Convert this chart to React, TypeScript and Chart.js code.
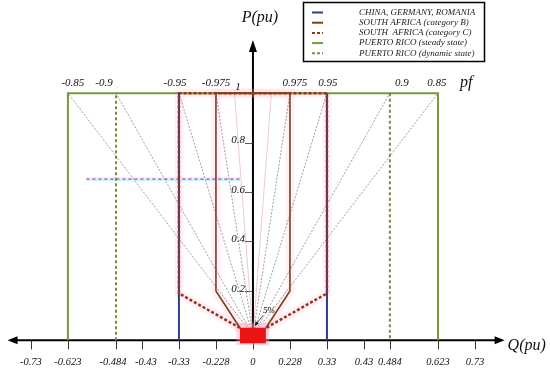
import React, { useEffect, useRef } from "react";
import { Chart, registerables } from "chart.js";
Chart.register(...registerables);

// Schematic Q axis: tick positions (axis units) and their printed labels
const qTickPositions = [-6, -5, -3.7, -3, -2, -1, 0, 1, 2, 3, 3.7, 5, 6];
const qTickLabels = ["-0.73", "-0.623", "-0.484", "-0.43", "-0.33", "-0.228", "0", "0.228", "0.33", "0.43", "0.484", "0.623", "0.73"];
const pTicks = [0.2, 0.4, 0.6, 0.8, 1];
const pTickLabels = ["0.2", "0.4", "0.6", "0.8", "1"];
// power-factor corners on the P = 1 line
const pfPositions = [-5, -3.7, -2, -1, 1, 2, 3.7, 5];
const pfLabels = ["-0.85", "-0.9", "-0.95", "-0.975", "0.975", "0.95", "0.9", "0.85"];
const extraRayQ = [-0.5, 0.5];

// series
const chinaQ = [-2, -2, null, 2, 2];
const chinaP = [0, 1, null, 1, 0];
const saBQ = [-0.35, -1, -1, 1, 1, 0.35];
const saBP = [0.05, 0.2, 1, 1, 0.2, 0.05];
const saCQ = [-0.35, -2, -2, 2, 2, 0.35];
const saCP = [0.05, 0.19, 1, 1, 0.19, 0.05];
const prSteadyQ = [-5, -5, 5, 5];
const prSteadyP = [0, 1, 1, 0];
const prDynQ = [-3.7, -3.7, null, 3.7, 3.7];
const prDynP = [0, 1, null, 1, 0];
const deadbandQ = [-0.35, 0.35];
const deadbandP = [0.05, 0.05];
const strayQ = [-4.5, -0.35];
const strayP = [0.652, 0.652];

const legendNames = [
  "CHINA, GERMANY, ROMANIA",
  "SOUTH AFRICA (category B)",
  "SOUTH  AFRICA (category C)",
  "PUERTO RICO (steady state)",
  "PUERTO RICO (dynamic state)",
];

const BLUE = "#2b3f8c";
const BROWN = "#843d14";
const RED = "#9a3318";
const GREEN = "#7a983c";
const GREEN2 = "#73913a";
const legendColors = [BLUE, BROWN, RED, GREEN, GREEN2];
const legendDashed = [false, false, true, false, true];

const zip = (qs: (number | null)[], ps: (number | null)[]) =>
  qs.map((q, i) => ({ x: q as any, y: ps[i] as any }));

const FONT = "'Liberation Serif', 'DejaVu Serif', serif";

const overlay = {
  id: "overlay",
  beforeDatasetsDraw(chart: any) {
    const { ctx, scales } = chart;
    const xs = scales.x, ys = scales.y;
    const x0 = xs.getPixelForValue(0);
    const y0 = ys.getPixelForValue(0);
    ctx.save();
    ctx.strokeStyle = "#000";
    ctx.fillStyle = "#000";
    ctx.lineWidth = 2;
    const xl = xs.getPixelForValue(-6.63);
    const xr = xs.getPixelForValue(6.8);
    ctx.beginPath();
    ctx.moveTo(xl + 6, y0);
    ctx.lineTo(xr - 6, y0);
    ctx.stroke();
    ctx.beginPath();
    ctx.moveTo(xl, y0); ctx.lineTo(xl + 10, y0 - 4); ctx.lineTo(xl + 10, y0 + 4); ctx.closePath(); ctx.fill();
    ctx.beginPath();
    ctx.moveTo(xr, y0); ctx.lineTo(xr - 10, y0 - 4); ctx.lineTo(xr - 10, y0 + 4); ctx.closePath(); ctx.fill();
    const yt = ys.getPixelForValue(1.215);
    ctx.beginPath();
    ctx.moveTo(x0, y0);
    ctx.lineTo(x0, yt + 6);
    ctx.stroke();
    ctx.beginPath();
    ctx.moveTo(x0, yt); ctx.lineTo(x0 - 4, yt + 12); ctx.lineTo(x0 + 4, yt + 12); ctx.closePath(); ctx.fill();
    ctx.lineWidth = 1;
    ctx.strokeStyle = "#333";
    qTickPositions.forEach((q) => {
      const px = Math.round(xs.getPixelForValue(q)) + 0.5;
      ctx.beginPath();
      ctx.moveTo(px, y0);
      ctx.lineTo(px, y0 + 9);
      ctx.stroke();
    });
    ctx.lineWidth = 0.8;
    pTicks.forEach((p) => {
      if (p === 1) return;
      const py = Math.round(ys.getPixelForValue(p)) + 0.5;
      ctx.beginPath();
      ctx.moveTo(x0 - 8, py);
      ctx.lineTo(x0, py);
      ctx.stroke();
    });
    ctx.restore();
  },
  afterDatasetsDraw(chart: any) {
    const { ctx, scales } = chart;
    const xs = scales.x, ys = scales.y;
    const x0 = xs.getPixelForValue(0);
    const y0 = ys.getPixelForValue(0);
    const y1 = ys.getPixelForValue(1);
    ctx.save();
    ctx.fillStyle = "#111";
    ctx.textAlign = "center";
    ctx.textBaseline = "middle";
    ctx.font = `italic 10.5px ${FONT}`;
    const qShift = [0, 0, -3, 4, 0, 0, 0, 0, 0, 0, 0, 0, 0];
    qTickPositions.forEach((q, i) => {
      ctx.fillText(qTickLabels[i], xs.getPixelForValue(q) + qShift[i], y0 + 22);
    });
    ctx.font = `italic 11px ${FONT}`;
    pTicks.forEach((p, i) => {
      const py = ys.getPixelForValue(p);
      if (p === 1) {
        ctx.textAlign = "center";
        ctx.fillText(pTickLabels[i], x0 - 15, py - 6);
      } else {
        ctx.textAlign = "right";
        ctx.fillText(pTickLabels[i], x0 - 8, py - 2);
      }
    });
    ctx.textAlign = "center";
    const pfShift = [5, -12, -4, 0, 5, 1, 12, -1];
    pfPositions.forEach((q, i) => {
      ctx.fillText(pfLabels[i], xs.getPixelForValue(q) + pfShift[i], y1 - 10);
    });
    ctx.font = `italic 16px ${FONT}`;
    ctx.textAlign = "left";
    ctx.fillText("pf", xs.getPixelForValue(5) + 22, y1 - 10);
    ctx.fillText("Q(pu)", xs.getPixelForValue(6.8) + 3, y0 + 5);
    ctx.textAlign = "center";
    ctx.fillText("P(pu)", x0 + 7, ys.getPixelForValue(1.3) - 1);
    // 5% annotation
    ctx.font = `italic 9px ${FONT}`;
    ctx.fillText("5%", x0 + 16, y0 - 30);
    ctx.strokeStyle = "#222";
    ctx.fillStyle = "#222";
    ctx.lineWidth = 0.8;
    ctx.beginPath();
    ctx.moveTo(x0 + 10, y0 - 25);
    ctx.lineTo(x0 + 4, y0 - 17);
    ctx.stroke();
    ctx.beginPath();
    ctx.moveTo(x0 + 2, y0 - 14);
    ctx.lineTo(x0 + 2.5, y0 - 19);
    ctx.lineTo(x0 + 6, y0 - 17);
    ctx.closePath();
    ctx.fill();
    // legend box
    ctx.strokeStyle = "#000";
    ctx.lineWidth = 1.5;
    ctx.fillStyle = "#fff";
    ctx.fillRect(303, 2, 181, 60);
    ctx.strokeRect(303.5, 2.5, 181, 59);
    ctx.font = `italic 9px ${FONT}`;
    ctx.textAlign = "left";
    legendNames.forEach((name, i) => {
      const ry = 12.5 + i * 10.2;
      ctx.strokeStyle = legendColors[i];
      ctx.lineWidth = 2;
      ctx.setLineDash(legendDashed[i] ? [3, 2] : []);
      ctx.beginPath();
      ctx.moveTo(312, ry);
      ctx.lineTo(323, ry);
      ctx.stroke();
      ctx.setLineDash([]);
      ctx.fillStyle = "#222";
      ctx.fillText(name, 359, ry);
    });
    ctx.restore();
  },
};

export default function App() {
  const ref = useRef<HTMLCanvasElement>(null);
  useEffect(() => {
    if (!ref.current) return;
    const line = (data: any[], color: string, width: number, dash: number[] = [], extra: any = {}) => ({
      type: "scatter",
      data,
      showLine: true,
      borderColor: color,
      backgroundColor: color,
      borderWidth: width,
      borderDash: dash,
      pointRadius: 0,
      fill: false,
      spanGaps: false,
      clip: false,
      ...extra,
    });
    const rays = [
      ...pfPositions.map((q) =>
        line(zip([0.0, q], [0.02, 1]), "rgba(70,70,70,0.75)", 0.7, [2, 1.5])
      ),
      ...extraRayQ.map((q) => line(zip([0, q], [0.02, 1]), "rgba(220,120,150,0.7)", 0.6)),
    ];
    // listed bottom-to-top; Chart.js draws index 0 on top, so reverse
    const bottomToTop: any[] = [
      line(zip(saBQ, saBP), "rgba(252,170,205,0.16)", 9),
      line(zip(saCQ, saCP), "rgba(252,170,205,0.16)", 9),
      line(zip(strayQ, strayP), "rgba(140,240,250,0.45)", 4),
      line(zip(strayQ, strayP), "#ff3cc0", 1.5, [3, 3]),
      line(zip(prSteadyQ, prSteadyP), GREEN, 2),
      line(zip(prDynQ, prDynP), GREEN2, 2, [3, 2.5]),
      line(zip(chinaQ, chinaP), BLUE, 2),
      ...rays,
      line(zip([-0.45, 0.45], [0.07, 0.07]), "rgba(0,0,0,0)", 0, [], {
        fill: { value: -0.02 },
        backgroundColor: "rgba(250,150,190,0.4)",
      }),
      line(zip(saBQ, saBP), BROWN, 1.6),
      line(zip(saCQ, saCP), RED, 2.5, [3, 2]),
      line(zip(deadbandQ, deadbandP), "#d81010", 0.5, [], {
        fill: { value: -0.012 },
        backgroundColor: "#ea1414",
      }),
    ];
    const chart = new Chart(ref.current, {
      type: "scatter",
      data: { datasets: bottomToTop.reverse() as any },
      options: {
        animation: false,
        responsive: false,
        maintainAspectRatio: false,
        layout: { padding: { left: 5, right: 38, top: 19, bottom: 0 } },
        plugins: { legend: { display: false }, tooltip: { enabled: false } },
        scales: {
          x: { type: "linear", display: false, min: -6.7, max: 7.0 },
          y: { type: "linear", display: false, min: -0.12, max: 1.3 },
        },
        elements: { point: { radius: 0 }, line: { tension: 0 } },
      } as any,
      plugins: [overlay],
    });
    return () => chart.destroy();
  }, []);
  return (
    <div style={{ position: "absolute", left: 0, top: 0, width: 550, height: 370, background: "#fff" }}>
      <canvas ref={ref} width={550} height={370} />
    </div>
  );
}
